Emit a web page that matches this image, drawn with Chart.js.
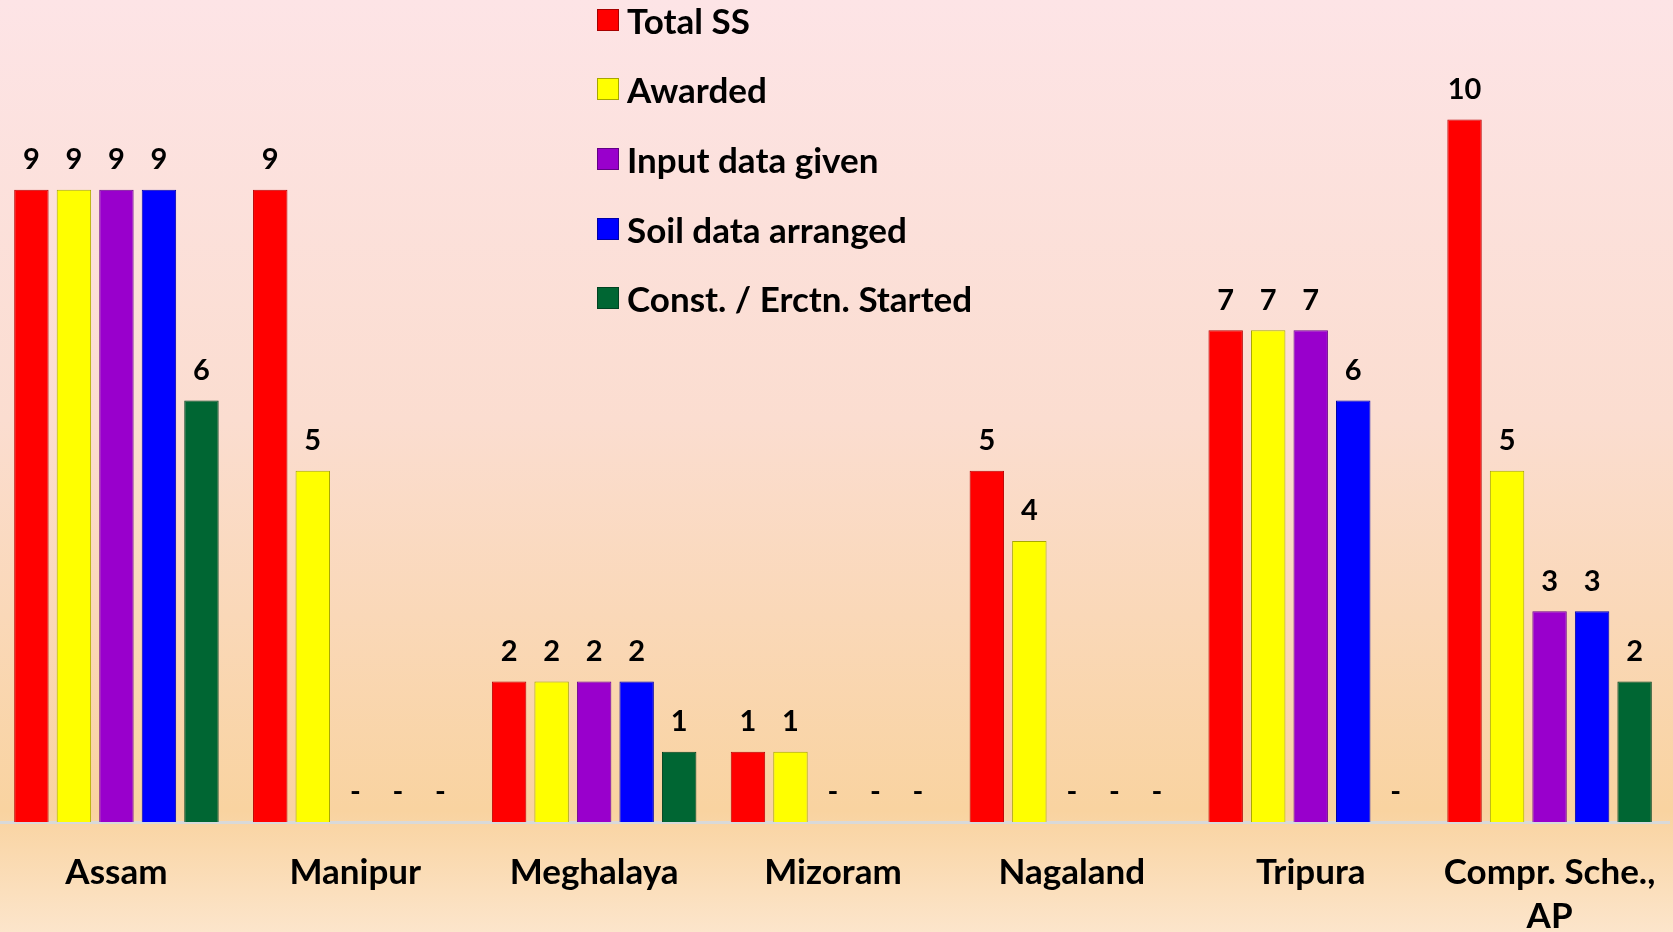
<!DOCTYPE html>
<html>
<head>
<meta charset="utf-8">
<script src="https://cdn.jsdelivr.net/npm/chart.js@4.4.0/dist/chart.umd.min.js"></script>
<style>
  html, body { margin: 0; padding: 0; }
  #wrap {
    position: relative;
    width: 1673px;
    height: 932px;
    overflow: hidden;
    background: linear-gradient(to bottom, #fde4e6 0%, #fbddd0 45%, #f9d3a0 87%, #fce5cb 100%);
    font-family: Lato, "Open Sans", sans-serif;
  }
  #plot {
    position: absolute;
    left: -3px;
    top: 0;
    width: 1676px;
    height: 932px;
  }
  #legend {
    position: absolute;
    left: 597px;
    top: 2px;
    list-style: none;
    margin: 0;
    padding: 0;
  }
  #legend li {
    display: flex;
    align-items: center;
    height: 69.6px;
    margin-top: -17px;
    margin-bottom: 17px;
    font-weight: bold;
    font-size: 35px;
    color: #000;
  }
  #legend span.box {
    display: inline-block;
    width: 20px;
    height: 20px;
    margin-right: 8px;
    border: 1px solid rgba(0,0,0,0.35);
  }
</style>
</head>
<body>
<div id="wrap">
  <div id="plot"><canvas id="ssChart"></canvas></div>
  <ul id="legend"></ul>
</div>
<script>
// categories and series
const categories = ['Assam', 'Manipur', 'Meghalaya', 'Mizoram', 'Nagaland', 'Tripura', ['Compr. Sche.,', 'AP']];
const totalSS      = [9, 9, 2, 1, 5, 7, 10];
const awarded      = [9, 5, 2, 1, 4, 7, 5];
const inputGiven   = [9, 0, 2, 0, 0, 7, 3];
const soilArranged = [9, 0, 2, 0, 0, 6, 3];
const constStarted = [6, 0, 1, 0, 0, 0, 2];

const seriesNames  = ['Total SS', 'Awarded', 'Input data given', 'Soil data arranged', 'Const. / Erctn. Started'];
const seriesValues = [totalSS, awarded, inputGiven, soilArranged, constStarted];
const seriesColors = ['#ff0000', '#ffff00', '#9900cc', '#0000ff', '#006633'];
const seriesBorder = ['#b80000', '#a8a800', '#6a008e', '#0000a8', '#00401f'];

// value labels above bars ("-" for empty)
const valueLabels = {
    id: 'valueLabels',
    afterDatasetsDraw(chart) {
        const ctx = chart.ctx;
        ctx.save();
        ctx.font = 'bold 29px Lato, "Open Sans", sans-serif';
        ctx.fillStyle = '#000';
        ctx.textAlign = 'center';
        ctx.textBaseline = 'middle';
        chart.data.datasets.forEach((ds, i) => {
            chart.getDatasetMeta(i).data.forEach((bar, j) => {
                const v = ds.data[j];
                ctx.fillText(v === 0 ? '-' : String(v), bar.x, bar.y - 30);
            });
        });
        ctx.restore();
    }
};

function initChart() {
    const ctx = document.getElementById('ssChart').getContext('2d');

    new Chart(ctx, {
        type: 'bar',
        data: {
            labels: categories,
            datasets: seriesNames.map((name, i) => ({
                label: name,
                data: seriesValues[i],
                backgroundColor: seriesColors[i],
                borderColor: seriesBorder[i],
                borderWidth: 1,
                categoryPercentage: 0.89,
                barPercentage: 0.81
            }))
        },
        options: {
            responsive: true,
            maintainAspectRatio: false,
            animation: false,
            layout: { padding: { left: 0, right: 4, top: 0, bottom: 0 } },
            plugins: {
                legend: { display: false },
                tooltip: { enabled: false }
            },
            scales: {
                x: {
                    grid: { display: false, drawTicks: false },
                    border: { display: true, color: '#d9d9d9', width: 3 },
                    ticks: {
                        color: '#000',
                        padding: 28,
                        maxRotation: 0,
                        autoSkip: false,
                        font: { family: 'Lato, "Open Sans", sans-serif', size: 35, weight: 'bold', lineHeight: 1.28 }
                    },
                    afterFit: (scale) => {
                        scale.height = 110;
                        scale.paddingLeft = 0;
                        scale.paddingRight = 0;
                    }
                },
                y: {
                    display: false,
                    min: 0,
                    max: 11.7
                }
            }
        },
        plugins: [valueLabels]
    });

    const legend = document.getElementById('legend');
    seriesNames.forEach((name, i) => {
        const li = document.createElement('li');
        li.innerHTML = '<span class="box" style="background:' + seriesColors[i] + '"></span>' + name;
        legend.appendChild(li);
    });
}

document.addEventListener('DOMContentLoaded', () => {
    initChart();
});
</script>
</body>
</html>
